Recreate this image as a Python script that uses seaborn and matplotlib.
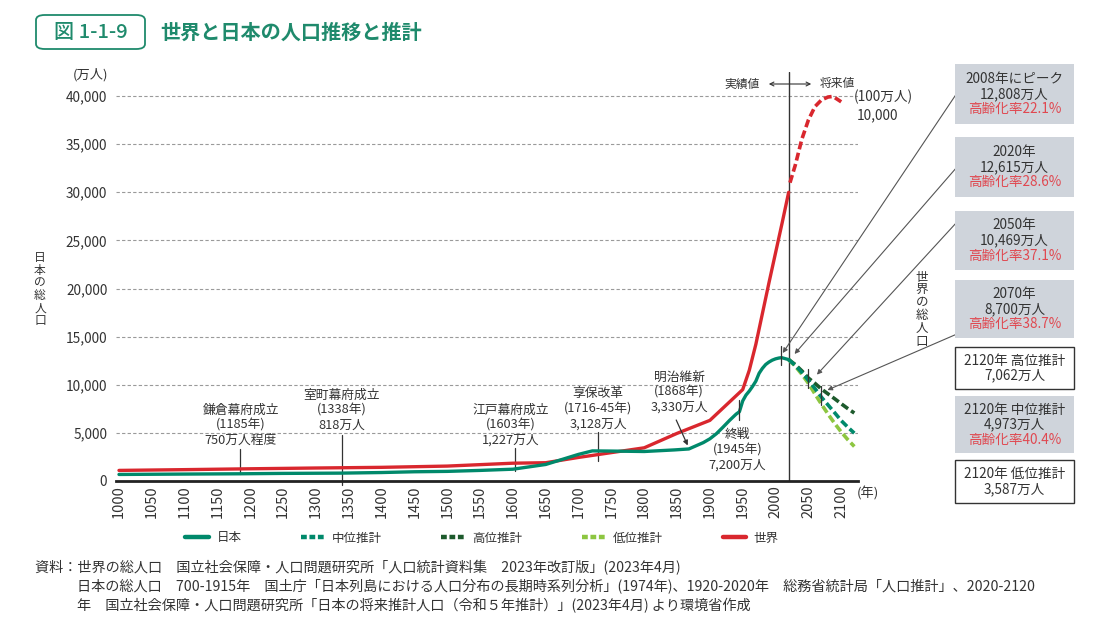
import numpy as np
import pandas as pd
import matplotlib
matplotlib.use('Agg')
import matplotlib.pyplot as plt
import seaborn as sns
from matplotlib.patches import Rectangle, FancyBboxPatch
from matplotlib.lines import Line2D

# 日本の総人口（万人）
jp_years = [1000, 1100, 1185, 1250, 1338, 1400, 1450, 1500, 1550, 1600, 1650, 1700, 1721, 1750, 1800,
            1846, 1868, 1873, 1890, 1900, 1910, 1920, 1930, 1940, 1945, 1950, 1955, 1960, 1965, 1970,
            1975, 1980, 1985, 1990, 1995, 2000, 2005, 2008, 2010, 2015, 2020]
jp_pop = [680, 720, 750, 790, 818, 880, 960, 1000, 1100, 1227, 1718, 2769, 3128, 3110, 3065,
          3230, 3330, 3481, 3990, 4385, 4918, 5596, 6300, 6950, 7200, 8320, 8928, 9342, 9828, 10372,
          11194, 11706, 12105, 12361, 12557, 12693, 12777, 12808, 12806, 12709, 12615]

# 将来推計（万人）
proj_years = [2020, 2030, 2040, 2050, 2060, 2070, 2080, 2090, 2100, 2110, 2120]
proj_mid = [12615, 12012, 11284, 10469, 9615, 8700, 7900, 7100, 6278, 5600, 4973]
proj_high = [12615, 12100, 11450, 10700, 10150, 9549, 9050, 8550, 8030, 7530, 7062]
proj_low = [12615, 11930, 11100, 10160, 9050, 7971, 6950, 5990, 5100, 4300, 3587]

# 世界の総人口（左軸の目盛で表示）
w_years = [1000, 1100, 1200, 1300, 1400, 1500, 1600, 1650, 1700, 1750, 1800, 1850, 1900, 1950,
           1960, 1970, 1980, 1990, 2000, 2010, 2020]
w_pop = [1100, 1180, 1270, 1350, 1420, 1550, 1850, 1900, 2450, 2950, 3450, 4950, 6300, 9500,
         11500, 14200, 17400, 20600, 23700, 26800, 30000]
wf_years = [2022, 2030, 2040, 2050, 2060, 2070, 2080, 2086, 2090, 2100]
wf_pop = [31000, 32800, 35500, 37500, 38900, 39600, 39900, 39950, 39850, 39400]

# 歴史的な出来事の注記
events = ['鎌倉幕府成立\n(1185年)\n750万人程度', '室町幕府成立\n(1338年)\n818万人',
          '江戸幕府成立\n(1603年)\n1,227万人', '享保改革\n(1716-45年)\n3,128万人',
          '明治維新\n(1868年)\n3,330万人', '終戦\n(1945年)\n7,200万人']
event_years = [1185, 1338, 1603, 1730, 1868, 1945]

box_main = [['2008年にピーク', '12,808万人'], ['2020年', '12,615万人'], ['2050年', '10,469万人'],
            ['2070年', '8,700万人'], ['2120年 高位推計', '7,062万人'], ['2120年 中位推計', '4,973万人'],
            ['2120年 低位推計', '3,587万人']]
box_rate = ['高齢化率22.1%', '高齢化率28.6%', '高齢化率37.1%', '高齢化率38.7%', None, '高齢化率40.4%', None]

sns.set_style('white')
plt.rcParams['font.family'] = ['Noto Sans CJK JP', 'DejaVu Sans']

W, H = 1094, 629
TEAL = '#00896b'
DARK = '#1d5a2c'
LIGHT = '#8dc641'
RED = '#d9272e'
TXT = '#333333'
TITLE_C = '#1f8a6c'


def fp(x, y):
    return (x / W, 1 - y / H)


fig = plt.figure(figsize=(W / 100, H / 100), dpi=100)
ax = fig.add_axes([115.7 / W, 1 - 481 / H, (857.6 - 115.7) / W, (481 - 72) / H])

jp = pd.DataFrame({'year': jp_years, 'pop': jp_pop})
world = pd.DataFrame({'year': w_years, 'pop': w_pop})
world_f = pd.DataFrame({'year': wf_years, 'pop': wf_pop})
proj = pd.DataFrame({'year': proj_years, 'mid': proj_mid, 'high': proj_high, 'low': proj_low})

dash = (0, (2.2, 1.0))
sns.lineplot(data=world, x='year', y='pop', ax=ax, color=RED, lw=2.4, zorder=3)
sns.lineplot(data=world_f, x='year', y='pop', ax=ax, color=RED, lw=2.6, linestyle=dash, zorder=3)
sns.lineplot(data=proj, x='year', y='high', ax=ax, color=DARK, lw=2.6, linestyle=dash, zorder=4)
sns.lineplot(data=proj, x='year', y='mid', ax=ax, color=TEAL, lw=2.6, linestyle=dash, zorder=5)
sns.lineplot(data=proj, x='year', y='low', ax=ax, color=LIGHT, lw=2.6, linestyle=dash, zorder=4)
sns.lineplot(data=jp, x='year', y='pop', ax=ax, color=TEAL, lw=2.4, zorder=6)

ax.set_xlim(995, 2125)
ax.set_ylim(0, 42500)
ax.set_xticks(range(1000, 2101, 50))
ax.set_xticklabels([str(y) for y in range(1000, 2101, 50)], rotation=90, fontsize=10.5, color=TXT)
ax.set_yticks(range(0, 40001, 5000))
ax.set_yticklabels([f'{v:,}' for v in range(0, 40001, 5000)], fontsize=9.8, color=TXT)
ax.tick_params(axis='y', length=0, pad=6)
ax.tick_params(axis='x', direction='in', length=5, width=0.8, color='#555555', pad=3)
ax.set_xlabel('')
ax.set_ylabel('')
for s in ['top', 'right', 'left']:
    ax.spines[s].set_visible(False)
ax.spines['bottom'].set_color('#222222')
ax.spines['bottom'].set_linewidth(2)
for v in range(5000, 40001, 5000):
    ax.axhline(v, color='#9a9a9a', lw=0.8, linestyle=(0, (3, 2)), zorder=0)

# 実績値と将来値の境界
ax.axvline(2020, color='#333333', lw=1, zorder=2)

# 出来事の注記
jp_at = lambda yr: float(np.interp(yr, jp_years, jp_pop))
label_pos = [(1185.6, 5818), (1339, 7377), (1596, 5818), (1730, 7480), (1853, 9250), (1942, 3220)]
for txt, yr, (lx, ly) in zip(events, event_years, label_pos):
    ax.text(lx, ly, txt, ha='center', va='center', fontsize=9.2, color=TXT, linespacing=1.2)
ax.plot([1185, 1185], [3300, jp_at(1185)], color='#333333', lw=0.9)
ax.plot([1340, 1340], [4800, -400], color='#333333', lw=0.9, clip_on=False)
ax.plot([1603, 1603], [3400, jp_at(1603) - 250], color='#333333', lw=0.9)
ax.plot([1729, 1729], [5100, 2100], color='#333333', lw=0.9)
ax.annotate('', xy=(1868, jp_at(1868) + 100), xytext=(1847, 6600),
            arrowprops=dict(arrowstyle='-|>', color='#333333', lw=0.9, mutation_scale=7))
ax.plot([1945, 1945], [8400, 6300], color='#333333', lw=0.9, zorder=7)
for yr, val in [(2008, 12808), (2050, 10469), (2070, 8700)]:
    ax.plot([yr, yr], [val + 1200, val - 800], color='#333333', lw=0.9, zorder=7)

# 右側の吹き出しボックス
box_y = [(64, 124), (137, 197), (211, 270), (280, 338), (347, 389), (396, 453), (460, 503)]
filled = [True, True, True, True, False, True, False]
for (y0, y1), f, lines, rate in zip(box_y, filled, box_main, box_rate):
    x0, y_b = fp(955, y1)
    rect = Rectangle((x0, y_b), 119 / W, (y1 - y0) / H, transform=fig.transFigure,
                     facecolor='#cfd4db' if f else 'white',
                     edgecolor='none' if f else '#333333', lw=1)
    fig.add_artist(rect)
    n = len(lines) + (1 if rate else 0)
    yc = (y0 + y1) / 2
    ys = [yc + (i - (n - 1) / 2) * 15 for i in range(n)]
    for i, t in enumerate(lines):
        fig.text(*fp(1014.5, ys[i]), t, ha='center', va='center', fontsize=9.8, color=TXT)
    if rate:
        fig.text(*fp(1014.5, ys[-1]), rate, ha='center', va='center', fontsize=9.8, color='#e04850')

arrow_src = [(957, 93), (957, 167), (957, 222), (957, 334)]
arrow_tgt = [(2011, 13300), (2029, 13200), (2063, 11050), (2079, 9450)]
for src, tgt in zip(arrow_src, arrow_tgt):
    ax.annotate('', xy=tgt, xytext=fp(*src), textcoords='figure fraction',
                arrowprops=dict(arrowstyle='-|>', color='#555555', lw=0.8, mutation_scale=7,
                                shrinkA=0, shrinkB=0), annotation_clip=False)

# 軸ラベルなど
fig.text(*fp(90, 75), '(万人)', ha='center', va='center', fontsize=9.5, color=TXT)
fig.text(*fp(868, 493), '(年)', ha='center', va='center', fontsize=9.5, color=TXT)
fig.text(*fp(40, 289), '\n'.join('日本の総人口'), ha='center', va='center', fontsize=8.5,
         color=TXT, linespacing=0.95)
fig.text(*fp(922, 309), '\n'.join('世界の総人口'), ha='center', va='center', fontsize=9,
         color=TXT, linespacing=0.98)
fig.text(*fp(854, 97), '(100万人)', ha='left', va='center', fontsize=9.8, color=TXT)
fig.text(*fp(857, 115), '10,000', ha='left', va='center', fontsize=9.8, color=TXT)
fig.text(*fp(760, 84), '実績値', ha='right', va='center', fontsize=8.5, color=TXT)
fig.text(*fp(820, 84), '将来値', ha='left', va='center', fontsize=8.5, color=TXT)
fig.add_artist(matplotlib.patches.FancyArrowPatch(fp(766, 84), fp(814, 84), transform=fig.transFigure,
                                                  arrowstyle='<->', mutation_scale=7, lw=0.8,
                                                  color='#333333'))

# タイトル
fig.add_artist(FancyBboxPatch(fp(36, 49), 109 / W, 34 / H, transform=fig.transFigure,
                              boxstyle='round,pad=0,rounding_size=0.008', facecolor='white',
                              edgecolor=TITLE_C, lw=1.3))
fig.text(*fp(90.5, 32), '図 1-1-9', ha='center', va='center', fontsize=14.5, color=TITLE_C,
         fontweight='medium')
fig.text(*fp(160, 32), '世界と日本の人口推移と推計', ha='left', va='center', fontsize=14.5,
         color=TITLE_C, fontweight='bold')

# 凡例
handles = [Line2D([], [], color=TEAL, lw=3.2),
           Line2D([], [], color=TEAL, lw=3.2, linestyle=(0, (1.3, 0.6))),
           Line2D([], [], color=DARK, lw=3.2, linestyle=(0, (1.3, 0.6))),
           Line2D([], [], color=LIGHT, lw=3.2, linestyle=(0, (1.3, 0.6))),
           Line2D([], [], color=RED, lw=3.2)]
fig.legend(handles, ['日本', '中位推計', '高位推計', '低位推計', '世界'], ncol=5, loc='center',
           bbox_to_anchor=fp(482, 538), frameon=False, fontsize=9, handlelength=1.9,
           columnspacing=4.75, handletextpad=0.6, labelcolor=TXT)

# 資料
src_lines = ['資料：世界の総人口　国立社会保障・人口問題研究所「人口統計資料集　2023年改訂版」(2023年4月)',
             '日本の総人口　700-1915年　国土庁「日本列島における人口分布の長期時系列分析」(1974年)、1920-2020年　総務省統計局「人口推計」、2020-2120',
             '年　国立社会保障・人口問題研究所「日本の将来推計人口（令和５年推計）」(2023年4月) より環境省作成']
fig.text(*fp(35, 568), src_lines[0], ha='left', va='center', fontsize=10.2, color=TXT)
fig.text(*fp(77, 587), src_lines[1], ha='left', va='center', fontsize=10.2, color=TXT)
fig.text(*fp(77, 606), src_lines[2], ha='left', va='center', fontsize=10.2, color=TXT)

plt.savefig('out.png', dpi=100)
